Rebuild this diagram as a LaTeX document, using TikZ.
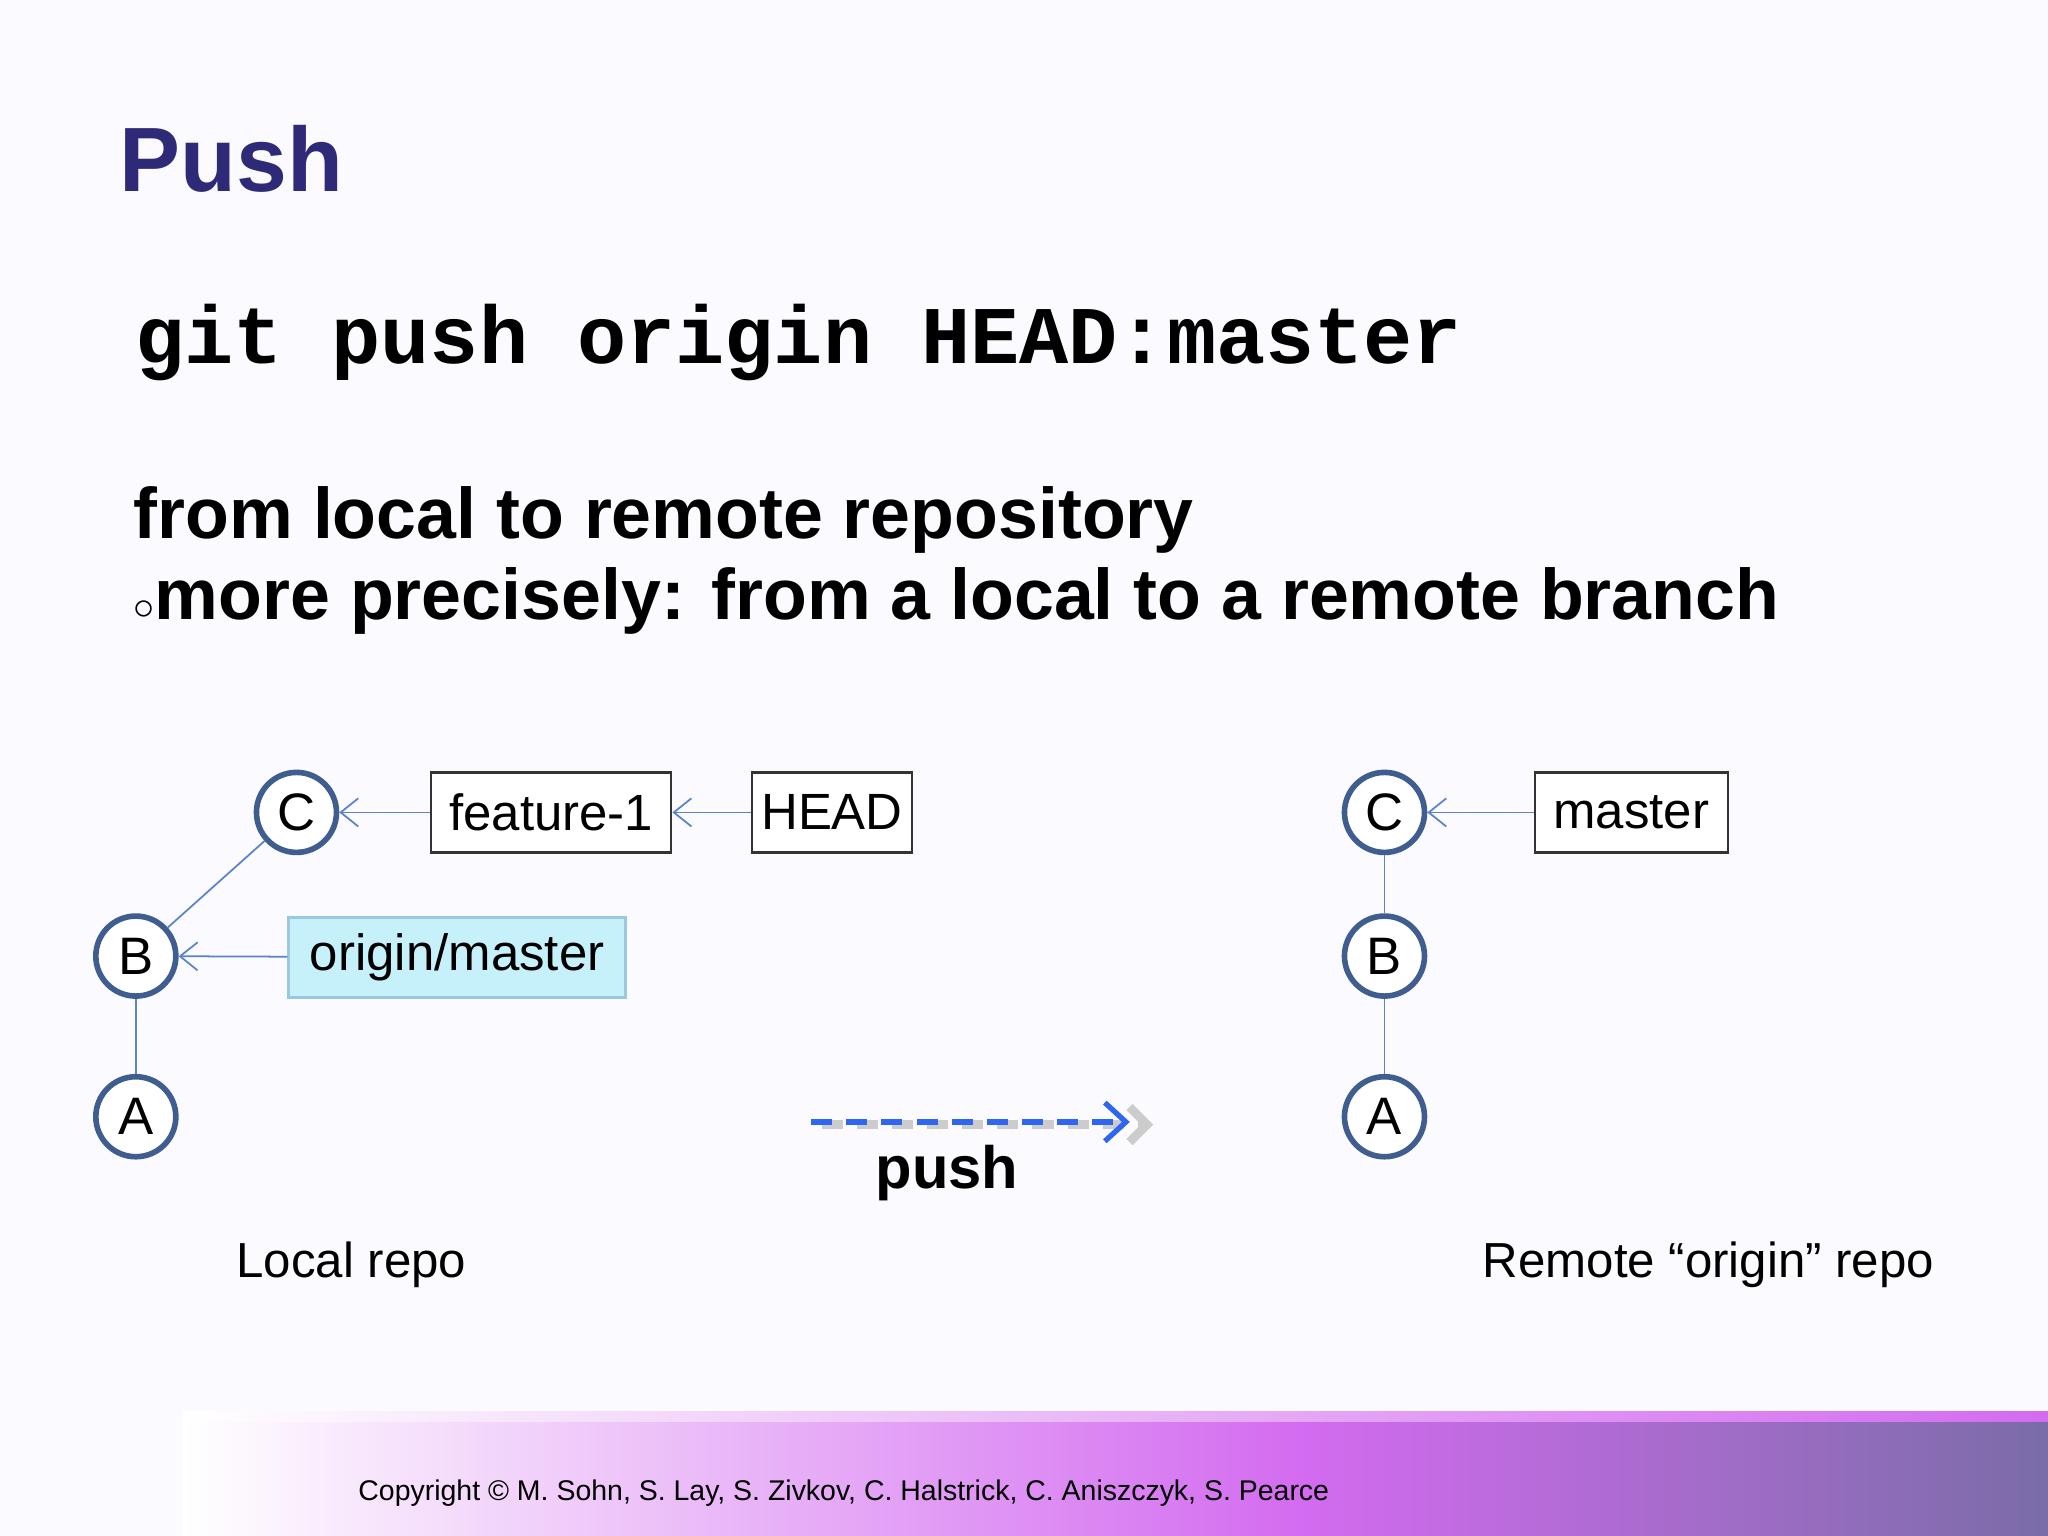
\documentclass[tikz,border=0pt]{standalone}
\usepackage{fontspec}
\setmainfont{Liberation Sans}
\setmonofont{Liberation Mono}
\usetikzlibrary{positioning,arrows.meta}
\definecolor{titleblue}{HTML}{2E2A78}
\definecolor{ringblue}{HTML}{3F5E8F}
\definecolor{linkblue}{HTML}{5B84C8}
\definecolor{pushblue}{HTML}{2F66F0}
\definecolor{tagcyan}{HTML}{C6F0FA}
\definecolor{bandpink}{HTML}{D36BF0}
\definecolor{bandgray}{HTML}{7A6CA8}
\begin{document}
\begin{tikzpicture}[x=0.01306cm,y=-0.01306cm,
    commit/.style={circle,draw=ringblue,line width=1.6pt,fill=white,minimum size=0.8cm,inner sep=0pt,font=\fontsize{15}{15}\selectfont},
    ref/.style={draw=black!80,line width=0.7pt,fill=white,minimum height=0.8cm,inner sep=2pt,font=\fontsize{14.5}{14.5}\selectfont},
    link/.style={linkblue,line width=0.5pt},
    pointer/.style={link,-{Straight Barb[length=5pt,width=8pt]}},
    caption/.style={font=\fontsize{14}{14}\selectfont}]
    % Frame
    \useasboundingbox (0,0) rectangle (1568,1176);
    \fill[white!98!blue] (0,0) rectangle (1568,1176);

    % Footer banner
    \shade[left color=white,middle color=white!70!bandpink,right color=bandpink] (140,1085) -- (1000,1085) -- (1000,1176) -- (140,1176) -- cycle;
    \shade[left color=bandpink,right color=bandgray] (1000,1085) -- (1568,1085) -- (1568,1176) -- (1000,1176) -- cycle;
    \shade[left color=white,right color=bandpink] (140,1081) rectangle (1568,1088);
    \node[font=\fontsize{8.1}{9}\selectfont] (copy) at (646,1143) {Copyright \textcopyright{} M. Sohn, S. Lay, S. Zivkov, C. Halstrick, C. Aniszczyk, S. Pearce};

    % Texts
    \node[anchor=base west,text=titleblue,font=\fontsize{26}{26}\selectfont\bfseries] (title) at (82,147) {Push};
    \node[anchor=west,font=\fontsize{23.3}{23}\ttfamily\bfseries] (cmd) at (94,262) {git push origin HEAD:master};
    \node[anchor=west,font=\fontsize{20.4}{20}\selectfont\bfseries] (line1) at (93,398) {from local to remote repository};
    \node[anchor=west,font=\fontsize{20.4}{20}\selectfont\bfseries] (line2) at (93,460) {\textmd{\fontsize{12}{12}\selectfont$\circ$}more precisely: from a local to a remote branch};

    % Local repo
    \node[commit] (lC) at (227,622) {C};
    \node[commit] (lB) at (104,732) {B};
    \node[commit] (lA) at (104,855) {A};
    \draw[link] (lA) -- (lB);
    \draw[link] (lB) -- (lC);
    \node[ref,minimum width=2.4cm] (feat) at (422,622) {feature-1};
    \node[ref,minimum width=1.6cm] (head) at (637,622) {HEAD};
    \node[ref,minimum width=3.37cm,draw=cyan!50!gray!60,fill=tagcyan,anchor=west] (omaster) at (220,733) {origin/master};
    \draw[pointer] (feat) -- (lC);
    \draw[pointer] (head) -- (feat);
    \draw[pointer] (omaster) -- (lB);
    \node[caption] (local) at (269,968) {Local repo};

    % Remote repo
    \node[commit] (rC) at (1060,622) {C};
    \node[commit] (rB) at (1060,732) {B};
    \node[commit] (rA) at (1060,855) {A};
    \draw[link] (rA) -- (rB);
    \draw[link] (rB) -- (rC);
    \node[ref,minimum width=1.93cm] (master) at (1249,622) {master};
    \draw[pointer] (master) -- (rC);
    \node[caption] (remote) at (1308,968) {Remote “origin” repo};

    % Push
    \coordinate (ps) at (621,859);
    \coordinate (pe) at (865,859);
    \draw[black!20,line width=2.5pt,dash pattern=on 6pt off 4pt,-{Straight Barb[length=5pt,width=10pt]}] ([shift={(8,2)}]ps) -- ([shift={(18,2)}]pe);
    \draw[pushblue,line width=1.5pt,dash pattern=on 6pt off 4pt,-{Straight Barb[length=6pt,width=11pt]}] (ps) -- (pe);
    \node[font=\fontsize{17}{17}\selectfont\bfseries] (push) at (725,898) {push};
\end{tikzpicture}
\end{document}
